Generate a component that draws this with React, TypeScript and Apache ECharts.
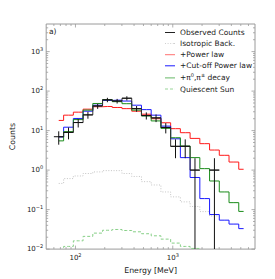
import React, { useEffect, useRef } from "react";
import * as echarts from "echarts";

// Energy bins (MeV): centres and edges
const energyMeV = [67.3, 84.8, 106.7, 134.3, 169.1, 212.9, 268.0, 337.4, 424.8, 534.8, 673.2, 847.5, 1067, 1343, 1691, 2129, 2680, 3374, 4248, 5348];
const binLowMeV = [60, 75.5, 95.1, 119.7, 150.7, 189.7, 238.9, 300.7, 378.6, 476.6, 600, 755.3, 950.9, 1197, 1507, 1897, 2389, 3007, 3786, 4766];
const binHighMeV = [75.5, 95.1, 119.7, 150.7, 189.7, 238.9, 300.7, 378.6, 476.6, 600, 755.3, 950.9, 1197, 1507, 1897, 2389, 3007, 3786, 4766, 6000];

// Series values (counts)
const observedCounts = [7, 9, 16, 25, 42, 60, 56, 66, 36, 24, 21, 12, 4, 4, 1, 0, 1, 0, 0, 0];
const observedErr = [2.6, 3, 4, 5, 6.5, 7.7, 7.5, 8.1, 6, 4.9, 4.6, 3.5, 2, 2, 1, 0, 1, 0, 0, 0];
const isotropicBack = [0.46, 0.61, 0.71, 0.82, 0.9, 0.97, 0.97, 0.82, 0.69, 0.51, 0.42, 0.28, 0.21, 0.157, 0.12, 0.089, 0.069, null, null, null];
const powerLaw = [18.1, 24.6, 29.3, 34.9, 40.2, 40.8, 38.5, 36, 31, 26, 20, 15.8, 11.2, 8.85, 6.35, 4.67, 3.22, 2.37, 1.6, 1.05];
const cutoffPowerLaw = [6.9, 12.2, 20.3, 31, 44, 58, 59, 56, 44, 34, 24.6, 13, 6.2, 2.07, 0.65, 0.19, 0.075, 0.054, 0.043, 0.033];
const pionDecay = [5.5, 9.4, 19, 33, 48.6, 61, 54, 48, 33, 23.5, 17.6, 11.4, 6.6, 4.07, 2.07, 1.09, 0.53, 0.28, 0.15, 0.09];
const quiescentSun = [0.008, 0.0117, 0.0162, 0.021, 0.0254, 0.03, 0.0314, 0.0296, 0.0274, 0.0245, 0.0217, 0.0179, 0.0142, 0.0117, 0.0104, 0.0092, 0.0085, 0.008, 0.007, 0.006];

// Axes & ticks
const xMin = 50;
const xMax = 7000;
const yMin = 0.01;
const yMax = 5000;
const xMajorTicks = [100, 1000];
const xTickExps = ["2", "3"];
const xMinorTicks = [60, 70, 80, 90, 200, 300, 400, 500, 600, 700, 800, 900, 2000, 3000, 4000, 5000, 6000];
const yMajorTicks = [0.01, 0.1, 1, 10, 100, 1000];
const yTickExps = ["\u22122", "\u22121", "0", "1", "2", "3"];
const yMinorTicks = [0.02, 0.03, 0.04, 0.05, 0.06, 0.07, 0.08, 0.09, 0.2, 0.3, 0.4, 0.5, 0.6, 0.7, 0.8, 0.9, 2, 3, 4, 5, 6, 7, 8, 9, 20, 30, 40, 50, 60, 70, 80, 90, 200, 300, 400, 500, 600, 700, 800, 900, 2000, 3000, 4000];

const NAME_OBS = "Observed Counts";
const NAME_ISO = "Isotropic Back.";
const NAME_PL = "+Power law";
const NAME_CPL = "+Cut-off Power law";
const NAME_PI = "+\u03c0\u2070,\u03c0\u00b1 decay";
const NAME_QS = "Quiescent Sun";

const FONT = "DejaVu Sans";
const FRAME = "#9a9a9a";

const ICON_SOLID = "path://M0,0h10v1h-10z";
const ICON_DOTTED = "path://M0,0h1v1h-1z M2.6,0h1v1h-1z M5.2,0h1v1h-1z M7.8,0h1v1h-1z M9,0h1v1h-1z";
const ICON_DASHED = "path://M0,0h3v1h-3z M5,0h3v1h-3z M9.9,0h0.1v1h-0.1z";

function tickFormatter(values: number[], exps: string[]) {
  return (v: number) => {
    for (let i = 0; i < values.length; i++) {
      if (Math.abs(v - values[i]) / values[i] < 1e-6) return `{b|10}{s|${exps[i]}}`;
    }
    return "";
  };
}

const tickRich = {
  b: { fontSize: 7, fontFamily: FONT, color: "#222" },
  s: { fontSize: 5, fontFamily: FONT, color: "#222", padding: [0, 0, 6, 0] },
};

function stepSeries(name: string, values: (number | null)[], color: string, type: any, width = 1, z = 2) {
  return {
    name,
    type: "line",
    step: "middle",
    symbol: "none",
    clip: true,
    connectNulls: false,
    z,
    lineStyle: { color, width, type },
    itemStyle: { color },
    data: energyMeV.map((e, i) => [e, values[i] != null && (values[i] as number) > 0 ? values[i] : null]),
  };
}

export default function App() {
  const ref = useRef<HTMLDivElement>(null);
  useEffect(() => {
    document.body.style.margin = "0";
    if (!ref.current) return;
    const chart = echarts.init(ref.current, null, { renderer: "svg" });
    const option: any = {
      animation: false,
      backgroundColor: "#fff",
      textStyle: { fontFamily: FONT },
      grid: { left: 36, right: 20, top: 24, bottom: 29, show: true, borderColor: FRAME, borderWidth: 1, backgroundColor: "transparent" },
      xAxis: {
        type: "log",
        logBase: 10,
        min: xMin,
        max: xMax,
        name: "Energy [MeV]",
        nameLocation: "middle",
        nameGap: 12,
        nameTextStyle: { fontSize: 7.8, fontFamily: FONT, color: "#222" },
        axisLine: { show: false },
        axisTick: { show: false },
        splitLine: { show: false },
        minorTick: { show: false },
        axisLabel: { margin: 3, formatter: tickFormatter(xMajorTicks, xTickExps), rich: tickRich, hideOverlap: false },
      },
      yAxis: {
        type: "log",
        logBase: 10,
        min: yMin,
        max: yMax,
        name: "Counts",
        nameLocation: "middle",
        nameGap: 18,
        nameTextStyle: { fontSize: 7.8, fontFamily: FONT, color: "#222" },
        axisLine: { show: false },
        axisTick: { show: false },
        splitLine: { show: false },
        minorTick: { show: false },
        axisLabel: { margin: 3, formatter: tickFormatter(yMajorTicks, yTickExps), rich: tickRich },
      },
      legend: {
        left: 160,
        top: 23.5,
        orient: "vertical",
        itemWidth: 10,
        itemHeight: 1,
        itemGap: 3.1,
        selectedMode: false,
        data: [
          { name: NAME_OBS, icon: ICON_SOLID, itemStyle: { color: "#222" } },
          { name: NAME_ISO, icon: ICON_DOTTED, itemStyle: { color: "#d0d0d0" } },
          { name: NAME_PL, icon: ICON_SOLID, itemStyle: { color: "#ff7070" } },
          { name: NAME_CPL, icon: ICON_SOLID, itemStyle: { color: "#1a1aff" } },
          { name: NAME_PI, icon: ICON_SOLID, itemStyle: { color: "#66b866" } },
          { name: NAME_QS, icon: ICON_DASHED, itemStyle: { color: "#9ad69a" } },
        ],
        formatter: (name: string) => (name === NAME_PI ? "+\u03c0{s|0},\u03c0{s|\u00b1} decay" : name),
        textStyle: {
          fontSize: 7.5,
          fontFamily: FONT,
          color: "#222",
          lineHeight: 8,
          rich: { s: { fontSize: 5, fontFamily: FONT, color: "#222", padding: [0, 0, 5, 0] } },
        },
      },
      graphic: [
        { type: "text", left: 49, top: 27.5, style: { text: "a)", fontSize: 7.5, fontFamily: FONT, fill: "#222" } },
      ],
      series: [
        stepSeries(NAME_ISO, isotropicBack, "#c4c4c4", [1, 1.6], 1, 2),
        stepSeries(NAME_QS, quiescentSun, "#86cf86", [3, 2], 1, 2),
        stepSeries(NAME_PL, powerLaw, "#ff1a1a", "solid", 1, 3),
        stepSeries(NAME_CPL, cutoffPowerLaw, "#1a1aff", "solid", 1, 3),
        stepSeries(NAME_PI, pionDecay, "#1a8c1a", "solid", 1, 3),
        stepSeries(NAME_OBS, observedCounts, "#333", "solid", 1, 4),
        {
          name: "obs-errors",
          type: "custom",
          clip: true,
          z: 5,
          silent: true,
          encode: { x: 0, y: 1 },
          data: energyMeV
            .map((e, i) => [e, observedCounts[i], observedErr[i], binLowMeV[i], binHighMeV[i]])
            .filter((d) => d[1] > 0),
          renderItem: (params: any, api: any) => {
            const cs = params.coordSys;
            const v = api.value(1);
            const err = api.value(2);
            const c = api.coord([api.value(0), v]);
            const lo = api.coord([api.value(3), v])[0];
            const hi = api.coord([api.value(4), v])[0];
            const top = api.coord([api.value(0), v + err])[1];
            const bottom = v - err > 0 ? api.coord([api.value(0), v - err])[1] : cs.y + cs.height;
            const style = { stroke: "#111", lineWidth: 1 };
            return {
              type: "group",
              children: [
                { type: "line", shape: { x1: lo, y1: c[1], x2: hi, y2: c[1] }, style },
                { type: "line", shape: { x1: c[0], y1: top, x2: c[0], y2: bottom }, style },
              ],
            };
          },
        },
        {
          name: "x-ticks",
          type: "custom",
          silent: true,
          z: 6,
          encode: { x: 0, y: 1 },
          data: [...xMajorTicks.map((t) => [t, 1, 1]), ...xMinorTicks.map((t) => [t, 1, 0])],
          renderItem: (params: any, api: any) => {
            const cs = params.coordSys;
            const x = api.coord([api.value(0), 1])[0];
            const len = api.value(2) ? 3.5 : 2;
            const style = { stroke: FRAME, lineWidth: 0.8 };
            return {
              type: "group",
              children: [
                { type: "line", shape: { x1: x, y1: cs.y + cs.height, x2: x, y2: cs.y + cs.height - len }, style },
                { type: "line", shape: { x1: x, y1: cs.y, x2: x, y2: cs.y + len }, style },
              ],
            };
          },
        },
        {
          name: "y-ticks",
          type: "custom",
          silent: true,
          z: 6,
          encode: { x: 0, y: 1 },
          data: [...yMajorTicks.map((t) => [100, t, 1]), ...yMinorTicks.map((t) => [100, t, 0])],
          renderItem: (params: any, api: any) => {
            const cs = params.coordSys;
            const y = api.coord([100, api.value(1)])[1];
            const len = api.value(2) ? 3.5 : 2;
            const style = { stroke: FRAME, lineWidth: 0.8 };
            return {
              type: "group",
              children: [
                { type: "line", shape: { x1: cs.x, y1: y, x2: cs.x + len, y2: y }, style },
                { type: "line", shape: { x1: cs.x + cs.width, y1: y, x2: cs.x + cs.width - len, y2: y }, style },
              ],
            };
          },
        },
      ],
    };
    chart.setOption(option);
    return () => chart.dispose();
  }, []);
  return <div ref={ref} style={{ width: 275, height: 279 }} />;
}
